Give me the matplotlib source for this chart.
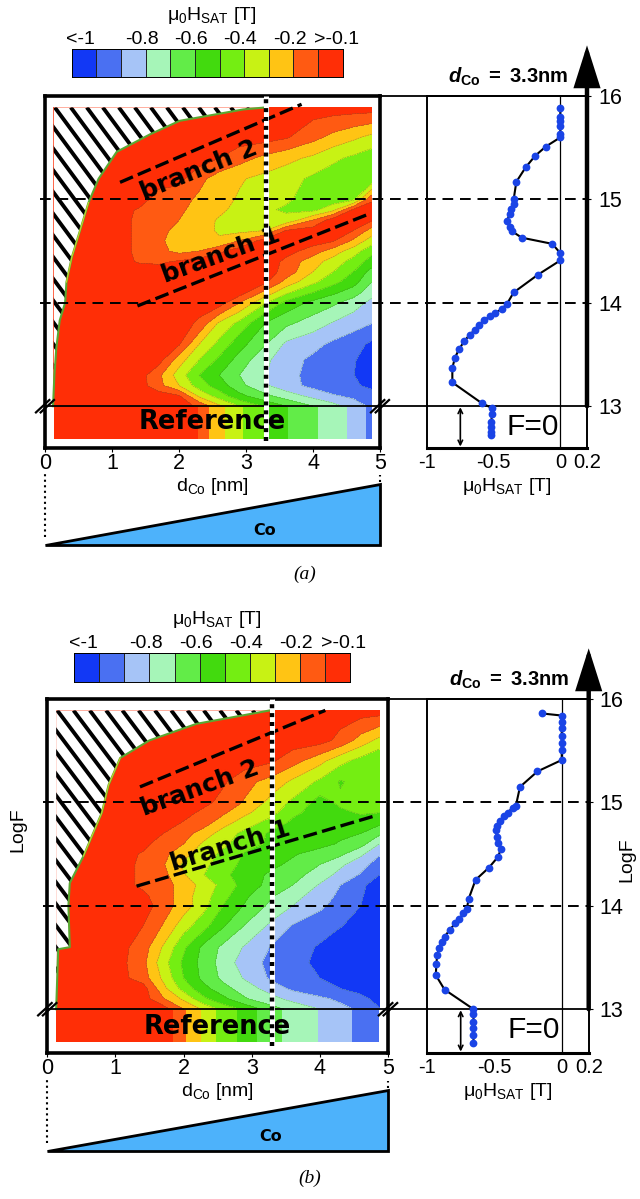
import numpy as np
import matplotlib
matplotlib.use("Agg")
import matplotlib.pyplot as plt
from matplotlib.colors import ListedColormap
from matplotlib.patches import Polygon

plt.rcParams['font.family'] = ['Liberation Sans', 'DejaVu Sans']
plt.rcParams['mathtext.fontset'] = 'custom'
plt.rcParams['mathtext.rm'] = 'Liberation Sans'
plt.rcParams['mathtext.it'] = 'Liberation Sans:italic'
plt.rcParams['mathtext.bf'] = 'Liberation Sans:bold'
plt.rcParams['mathtext.bfit'] = 'Liberation Sans:italic:bold'
plt.rcParams['mathtext.default'] = 'regular'

W, H = 640, 1199

# colour bands
levels = [-3, -1, -0.9, -0.8, -0.7, -0.6, -0.5, -0.4, -0.3, -0.2, -0.1, 1]
band_colors = ['#1238f5', '#4a70f2', '#a6c4f7', '#a6f5b8', '#62ec48', '#42da0e',
               '#74ee12', '#c8f214', '#ffc414', '#ff5a12', '#ff2e06']
cb_ticks_a = [0.37, 2.85, 4.85, 6.85, 8.85, 10.76]
cb_labels = ['<-1', '-0.8', '-0.6', '-0.4', '-0.2', '>-0.1']

# map grid
d_cols = [0.13, 1, 1.4, 1.7, 2, 2.3, 2.6, 2.9, 3.3, 3.6, 4, 4.3, 4.6, 4.875]
logf_rows = [13.0, 13.1, 13.2, 13.3, 13.45, 13.6, 13.8, 14, 14.1, 14.2, 14.3,
             14.4, 14.5, 14.6, 14.7, 14.8, 14.9, 15, 15.2, 15.4, 15.6, 15.89]
r = -0.05

h_map_a = [
    [r, r, r, r, r, -.12, -.28, -.4, -.52, -.6, -.7, -.76, -.85, -.92],
    [r, r, r, r, -.09, -.32, -.45, -.57, -.68, -.75, -.83, -.89, -.92, -.95],
    [r, r, r, -.17, -.3, -.45, -.55, -.67, -.79, -.86, -.93, -.96, -.98, -1.03],
    [r, r, r, -.18, -.35, -.5, -.6, -.7, -.8, -.87, -.93, -.96, -.995, -1.1],
    [r, r, r, -.06, -.25, -.4, -.52, -.64, -.78, -.86, -.92, -.95, -.985, -1.08],
    [r, r, r, r, -.09, -.3, -.43, -.56, -.7, -.82, -.87, -.92, -.96, -1.02],
    [r, r, r, r, r, -.12, -.32, -.43, -.61, -.68, -.75, -.81, -.86, -.9],
    [r, r, r, r, r, r, r, -.2, -.4, -.53, -.63, -.68, -.75, -.83],
    [r, r, r, r, r, r, r, r, -.24, -.38, -.5, -.58, -.65, -.76],
    [r, r, r, r, r, r, r, r, -.09, -.24, -.38, -.47, -.56, -.7],
    [r, r, r, r, r, r, r, r, r, -.14, -.3, -.4, -.5, -.64],
    [r, r, -.11, -.12, -.09, r, r, r, -.03, -.13, -.26, -.34, -.44, -.54],
    [r, r, -.12, -.17, -.23, -.2, -.12, r, r, -.06, -.15, -.25, -.35, -.47],
    [r, r, -.12, -.18, -.25, -.28, -.29, -.2, r, r, r, -.09, -.22, -.35],
    [r, r, -.12, -.16, -.24, -.27, -.31, -.33, -.3, -.1, r, r, -.1, -.24],
    [r, r, -.12, -.17, -.2, -.26, -.31, -.34, -.39, -.38, -.2, r, r, -.09],
    [r, r, -.11, -.17, -.18, -.24, -.28, -.33, -.39, -.41, -.43, -.33, -.09, -.04],
    [r, r, r, -.15, -.16, -.22, -.27, -.31, -.36, -.39, -.43, -.46, -.43, -.12],
    [r, r, r, r, -.07, -.17, -.25, -.29, -.33, -.36, -.42, -.45, -.47, -.49],
    [r, r, r, r, r, r, -.1, -.16, -.23, -.27, -.32, -.38, -.42, -.46],
    [r, r, r, r, r, r, r, r, -.06, -.09, -.17, -.23, -.28, -.33],
    [r, r, r, r, r, r, r, r, r, r, r, r, r, r],
]

h_map_b = [
    [r, r, r, r, -.2, -.32, -.44, -.52, -.66, -.73, -.8, -.87, -.92, -.99],
    [r, r, r, -.19, -.32, -.48, -.58, -.69, -.77, -.83, -.88, -.92, -.96, -1.05],
    [r, r, r, -.27, -.44, -.57, -.67, -.75, -.85, -.92, -.97, -1.0, -1.05, -1.1],
    [r, r, -.15, -.32, -.5, -.63, -.73, -.81, -.92, -.96, -1.0, -1.05, -1.1, -1.1],
    [r, r, -.17, -.36, -.52, -.64, -.75, -.85, -.93, -.97, -1.02, -1.1, -1.1, -1.1],
    [r, r, -.15, -.31, -.48, -.63, -.73, -.81, -.91, -.96, -1.01, -1.1, -1.1, -1.1],
    [r, r, -.1, -.21, -.36, -.47, -.6, -.71, -.83, -.91, -.96, -.995, -1.05, -1.1],
    [r, r, r, -.15, -.25, -.37, -.51, -.61, -.73, -.8, -.88, -.94, -1.0, -1.06],
    [r, r, -.08, -.15, -.25, -.36, -.47, -.58, -.69, -.76, -.85, -.92, -.99, -1.06],
    [r, r, -.12, -.16, -.24, -.34, -.44, -.54, -.64, -.7, -.81, -.9, -.98, -1.05],
    [r, r, -.12, -.17, -.29, -.4, -.48, -.55, -.62, -.66, -.75, -.83, -.91, -1.0],
    [r, r, -.12, -.19, -.32, -.38, -.45, -.53, -.58, -.62, -.7, -.78, -.86, -.95],
    [r, r, -.11, -.17, -.27, -.35, -.43, -.51, -.55, -.59, -.64, -.68, -.78, -.89],
    [r, r, -.07, -.15, -.2, -.32, -.38, -.46, -.52, -.55, -.57, -.61, -.66, -.8],
    [r, r, r, -.1, -.16, -.25, -.35, -.43, -.52, -.54, -.56, -.58, -.6, -.68],
    [r, r, r, r, -.11, -.16, -.27, -.35, -.45, -.52, -.55, -.55, -.55, -.58],
    [r, r, r, r, -.06, -.13, -.19, -.28, -.37, -.48, -.54, -.52, -.49, -.5],
    [r, r, r, r, r, -.07, -.14, -.21, -.34, -.42, -.54, -.48, -.46, -.46],
    [r, r, r, r, r, r, -.09, -.17, -.24, -.32, -.42, -.51, -.46, -.46],
    [r, r, r, r, r, r, r, r, -.09, -.16, -.27, -.37, -.44, -.5],
    [r, r, r, r, r, r, r, r, r, r, -.06, -.13, -.24, -.33],
    [r, r, r, r, r, r, r, r, r, r, r, r, r, r],
]

# reference (F=0) strips: value reached at each thickness
ref_d_a = [0.13, 2.28, 2.45, 2.69, 2.95, 3.28, 3.62, 4.08, 4.51, 4.79, 4.875]
ref_d_b = [0.13, 1.84, 2.04, 2.25, 2.48, 2.78, 3.08, 3.44, 3.97, 4.47, 4.875]
ref_h = [-0.05, -0.1, -0.2, -0.3, -0.4, -0.5, -0.6, -0.7, -0.8, -0.9, -0.98]

# edge of the region without signal
edge_d_a = [0.12, 0.14, 0.17, 0.22, 0.3, 0.32, 0.4, 0.57, 0.65, 0.8, 1.07, 1.57, 2.01, 2.96, 3.3]
edge_f_a = [13.0, 13.3, 13.57, 13.83, 14.0, 14.2, 14.44, 14.8, 14.97, 15.2, 15.46, 15.63, 15.76, 15.87, 15.89]
edge_d_b = [0.13, 0.16, 0.33, 0.31, 0.33, 0.53, 0.8, 0.9, 1.07, 1.5, 2.19, 3.27]
edge_f_b = [13.0, 13.58, 13.6, 14.0, 14.22, 14.48, 14.9, 15.17, 15.43, 15.6, 15.76, 15.89]

# profiles at 3.3 nm
prof_f_a = [15.88, 15.80, 15.76, 15.71, 15.63, 15.60, 15.51, 15.42, 15.31, 15.17, 15.0, 14.96,
            14.91, 14.86, 14.79, 14.73, 14.69, 14.63, 14.57, 14.48, 14.41, 14.27, 14.10, 13.99,
            13.94, 13.90, 13.87, 13.83, 13.79, 13.74, 13.69, 13.63, 13.55, 13.47, 13.37, 13.23,
            13.03, 12.98, 12.92, 12.85, 12.80, 12.75, 12.72]
prof_h_a = [0, 0, 0, 0, 0, 0, -.11, -.19, -.26, -.33, -.35, -.35,
            -.37, -.38, -.40, -.38, -.36, -.29, -.06, 0, 0, -.17, -.35, -.40,
            -.44, -.49, -.53, -.57, -.61, -.64, -.68, -.72, -.76, -.79, -.81, -.81,
            -.59, -.51, -.51, -.52, -.52, -.52, -.52]
prof_f_b = [15.86, 15.84, 15.78, 15.72, 15.64, 15.57, 15.51, 15.41, 15.30, 15.15, 14.97, 14.95,
            14.90, 14.87, 14.82, 14.77, 14.73, 14.67, 14.61, 14.55, 14.47, 14.37, 14.25, 14.07,
            13.97, 13.93, 13.87, 13.83, 13.77, 13.70, 13.65, 13.59, 13.52, 13.44, 13.33, 13.19,
            13.0, 12.95, 12.88, 12.82, 12.75, 12.67]
prof_h_b = [-.145, 0, 0, 0, 0, 0, 0, 0, -.18, -.31, -.34, -.365,
            -.40, -.43, -.46, -.48, -.49, -.48, -.47, -.45, -.475, -.54, -.64, -.69,
            -.705, -.73, -.76, -.79, -.83, -.87, -.89, -.91, -.925, -.93, -.935, -.87,
            -.655, -.655, -.655, -.655, -.655, -.655]


def px_axes(x0, y0, x1, y1):
    return plt.gcf().add_axes([x0 / W, 1 - y1 / H, (x1 - x0) / W, (y1 - y0) / H])


def panel(top, bottom_f, xl, xr, rx0, rx1, h_map, ref_d, edge_d, edge_f, prof_f, prof_h,
          cb_box, cb_ticks, cb_title_x, texts, branch1, branch2, wedge_box, letter):
    y16 = top
    dec = 103.4
    bottom = y16 + (16 - bottom_f) * dec

    # colour bar
    cb = px_axes(*cb_box)
    cb.pcolormesh(np.arange(12), [0, 1], [np.arange(11)], cmap=ListedColormap(band_colors),
                  edgecolors='#222222', linewidth=0.7)
    cb.set_yticks([])
    cb.set_xticks(cb_ticks)
    cb.set_xticklabels(cb_labels, fontsize=14)
    cb.tick_params(axis='x', top=False, bottom=False, labeltop=True, labelbottom=False, pad=-2.5)
    for s in cb.spines.values():
        s.set_linewidth(0.7)
    plt.gcf().text(cb_title_x / W, 1 - (cb_box[1] - 34) / H, 'μ$_0$H$_{SAT}$ [T]', fontsize=14,
                   ha='center', va='center')

    # map
    ax = px_axes(xl, y16, xr, bottom)
    ax.set_xlim(0, 5)
    ax.set_ylim(bottom_f, 16)
    Z = np.array(h_map)
    ax.contourf(d_cols, logf_rows, Z, levels=levels, colors=band_colors)
    ax.contour(d_cols, logf_rows, Z, levels=levels[1:-1], colors='#3c6e3c', linewidths=0.35, alpha=0.6)
    ax.contourf(ref_d, [12.68, 12.99], [ref_h, ref_h], levels=levels, colors=band_colors)

    # no-signal region with stripes
    pts = list(zip(edge_d, edge_f)) + [(0.13, 15.89), (0.13, 13.0)]
    poly = Polygon(pts, closed=True, fc='white', ec='none', zorder=3)
    ax.add_patch(poly)
    for c in np.arange(-3.2, 3.4, 0.239):
        ln, = ax.plot([c, c + 3.6], [15.89, 15.89 - 0.878 * 3.6], color='k', lw=2.8, zorder=4,
                      solid_capstyle='butt')
        ln.set_clip_path(poly)
    ax.plot(edge_d, edge_f, color='#5aa832', lw=1.5, zorder=5)
    ax.plot(edge_d[5:9], edge_f[5:9], color='#c8d22a', lw=0.8, zorder=5)

    # branches and guides
    ax.plot(branch2[0], branch2[1], color='k', lw=2.4, ls=(0, (4.2, 1.6)), zorder=6, clip_on=False)
    ax.plot(branch1[0], branch1[1], color='k', lw=2.4, ls=(0, (4.2, 1.6)), zorder=6)
    ax.text(*texts['b2'], 'branch 2', fontsize=18, fontweight='bold', family='DejaVu Sans',
            rotation=texts['r2'], ha='center', va='center', zorder=7)
    ax.text(*texts['b1'], 'branch 1', fontsize=18, fontweight='bold', family='DejaVu Sans',
            rotation=texts['r1'], ha='center', va='center', zorder=7)
    ax.text(*texts['ref'], 'Reference', fontsize=18.5, fontweight='bold', family='DejaVu Sans',
            ha='center', va='center', zorder=7)
    ax.plot([3.3, 3.3], [bottom_f + 0.06, 16], color='white', lw=3.6, zorder=8, solid_capstyle='butt')
    ax.plot([3.3, 3.3], [bottom_f + 0.06, 16], color='k', lw=3.2, ls=(0, (0.9, 1.1)), zorder=9)

    # lines running across both panels
    x_end = (rx1 - xl) / (xr - xl) * 5
    for f in [14, 15]:
        ax.plot([-0.07, x_end], [f, f], color='k', lw=1.4, ls=(0, (5.5, 3.5)), clip_on=False, zorder=6)
    ax.plot([0, x_end], [13, 13], color='k', lw=1.3, clip_on=False, zorder=6)
    ax.plot([0, x_end], [16, 16], color='k', lw=1.3, clip_on=False, zorder=6)
    for x in [0, 5]:
        for off in [-0.035, 0.035]:
            ax.plot([x - 0.1 + off, x + 0.1 + off], [12.94, 13.06], color='k', lw=1.6,
                    clip_on=False, zorder=10)
    ax.set_xticks(range(6))
    ax.set_yticks([])
    ax.tick_params(axis='x', labelsize=15.5, length=3, pad=1)
    ax.set_xlabel('d$_{Co}$ [nm]', fontsize=14, labelpad=1)
    for s in ax.spines.values():
        s.set_linewidth(2.6)

    # profile
    ax2 = px_axes(rx0, y16, rx1, bottom)
    ax2.set_xlim(-1, 0.2)
    ax2.set_ylim(bottom_f, 16)
    ax2.patch.set_alpha(0)
    ax2.axvline(0, color='k', lw=0.9)
    ax2.plot(prof_h, prof_f, '-', color='k', lw=1.5, zorder=3)
    ax2.plot(prof_h, prof_f, 'o', color='#1a44e6', ms=5.6, mew=0, zorder=4, clip_on=False)
    ax2.set_xticks([-1, -0.5, 0, 0.2])
    ax2.set_xticklabels(['-1', '-0.5', '0', '0.2'], fontsize=14.5)
    ax2.yaxis.tick_right()
    ax2.set_yticks([13, 14, 15, 16])
    ax2.tick_params(axis='y', labelsize=15.5, length=3, pad=5)
    ax2.tick_params(axis='x', length=0, pad=4)
    ax2.set_xlabel('μ$_0$H$_{SAT}$ [T]', fontsize=14, labelpad=3)
    ax2.spines['left'].set_linewidth(1.4)
    ax2.spines['right'].set_linewidth(1.4)
    ax2.spines['top'].set_linewidth(1.4)
    ax2.spines['bottom'].set_linewidth(2.2)
    ax2.annotate('', xy=(0.2, 16.49), xytext=(0.2, 13),
                 arrowprops=dict(arrowstyle='-|>,head_length=1.2,head_width=0.38', lw=3.2, color='k',
                                 mutation_scale=20, shrinkA=0, shrinkB=0, joinstyle='miter'),
                 annotation_clip=False, zorder=8)
    ax2.annotate('', xy=(-0.75, 12.99), xytext=(-0.75, bottom_f + 0.01),
                 arrowprops=dict(arrowstyle='<->', lw=1.2, color='k', shrinkA=0, shrinkB=0, mutation_scale=8))
    ax2.text(-0.21, 12.8, 'F=0', fontsize=21.5, ha='center', va='center')
    ax2.text(-0.39, 16.185, r'$\mathbfit{d}_{\mathbf{Co}}\ \mathbf{=\ 3.3nm}$', fontsize=14.5,
             ha='center', va='center', clip_on=False)

    # Co wedge
    wx = px_axes(*wedge_box)
    wx.set_xlim(0, 5)
    wx.set_ylim(0, 1)
    wx.axis('off')
    wx.fill([0, 5, 5], [0, 0, 1], fc='#4db2fb', ec='k', lw=2, clip_on=False)
    wx.plot([0, 0], [0.13, 1.18], color='k', lw=1.5, ls=':', clip_on=False)
    wx.plot([5, 5], [1.03, 1.15], color='k', lw=1.5, ls=':', clip_on=False)
    wx.text(3.28, 0.23, 'Co', fontsize=11.5, fontweight='bold', family='DejaVu Sans',
            ha='center', va='center')
    plt.gcf().text(letter[0] / W, 1 - letter[1] / H, letter[2], family='Liberation Serif',
                   style='italic', fontsize=14, ha='center', va='center')


fig = plt.figure(figsize=(W / 100, H / 100), dpi=100)

panel(96, 12.6, 45, 380, 427, 587, h_map_a, ref_d_a, edge_d_a, edge_f_a, prof_f_a, prof_h_a,
      (71.7, 49, 342.7, 77), cb_ticks_a, 212,
      dict(b2=(2.29, 15.28), r2=22, b1=(2.62, 14.46), r1=20, ref=(2.5, 12.85)),
      ([1.38, 4.8], [13.97, 14.85]), ([1.12, 3.83], [15.165, 15.92]),
      (45, 484, 380, 545), (305, 574, '(a)'))

panel(699, 12.58, 47.3, 388, 427, 588.7, h_map_b, ref_d_b, edge_d_b, edge_f_b, prof_f_b, prof_h_b,
      (74.3, 653, 350, 682), [0.38, 2.85, 4.85, 6.85, 8.85, 10.76], 217,
      dict(b2=(2.24, 15.14), r2=20, b1=(2.68, 14.58), r1=17, ref=(2.49, 12.83)),
      ([1.31, 4.81], [14.19, 14.87]), ([1.36, 4.08], [15.15, 15.89]),
      (47.3, 1090, 388, 1151), (310, 1178, '(b)'))

fig.text(18 / W, 1 - 830 / H, 'LogF', fontsize=14, rotation=90, ha='center', va='center')
fig.text(627 / W, 1 - 860 / H, 'LogF', fontsize=14, rotation=90, ha='center', va='center')

fig.savefig('out.png', dpi=100)
